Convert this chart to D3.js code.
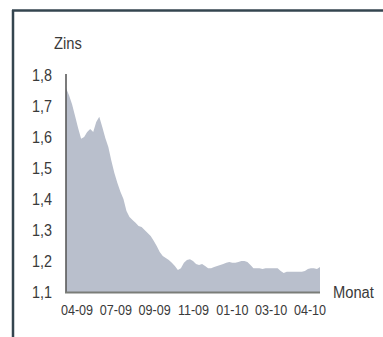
<!DOCTYPE html>
<html>
<head>
<meta charset="utf-8">
<script src="https://cdn.jsdelivr.net/npm/d3@7"></script>
<style>
  html, body { margin: 0; padding: 0; background: #fff; }
  svg { display: block; }
  text { font-family: "Liberation Sans", Arial, sans-serif; fill: #3a3a3a; }
</style>
</head>
<body>
<svg id="chart" width="383" height="337"></svg>
<script>
// Interest rate (Zins), daily-ish samples from April 2009 to April 2010
const zins = [
  1.758, 1.735, 1.706, 1.668, 1.629, 1.594, 1.600, 1.616, 1.626, 1.616,
  1.648, 1.665, 1.632, 1.597, 1.568, 1.523, 1.484, 1.452, 1.423, 1.400,
  1.361, 1.342, 1.332, 1.323, 1.313, 1.310, 1.300, 1.290, 1.281, 1.265,
  1.248, 1.229, 1.216, 1.210, 1.203, 1.194, 1.184, 1.171, 1.177, 1.194,
  1.203, 1.206, 1.200, 1.190, 1.187, 1.190, 1.184, 1.177, 1.177, 1.181,
  1.184, 1.187, 1.190, 1.194, 1.197, 1.194, 1.194, 1.197, 1.200, 1.200,
  1.197, 1.187, 1.177, 1.177, 1.177, 1.174, 1.177, 1.177, 1.177, 1.177,
  1.177, 1.168, 1.161, 1.165, 1.165, 1.165, 1.165, 1.165, 1.165, 1.168,
  1.174, 1.177, 1.177, 1.174, 1.181
];
const monthLabels = ["04-09", "07-09", "09-09", "11-09", "01-10", "03-10", "04-10"];
const yTicks = [1.1, 1.2, 1.3, 1.4, 1.5, 1.6, 1.7, 1.8];

const svg = d3.select("#chart");

const x = d3.scaleLinear().domain([0, zins.length - 1]).range([66, 320]);
const y = d3.scaleLinear().domain([1.1, 1.8]).range([292, 75]);
const xLab = d3.scalePoint().domain(monthLabels).range([77, 310]);

// Condensed text: regular face squeezed horizontally
function label(g, px, py, sx) {
  return g.append("text").attr("transform", `translate(${px},${py}) scale(${sx},1)`);
}

// Frame: top rule and left rule
svg.append("line").attr("x1", 12).attr("x2", 383).attr("y1", 10.5).attr("y2", 10.5)
  .attr("stroke", "#34454f").attr("stroke-width", 2.5);
svg.append("line").attr("x1", 13).attr("x2", 13).attr("y1", 10).attr("y2", 337)
  .attr("stroke", "#34454f").attr("stroke-width", 2.5);

// Area
const area = d3.area()
  .x((d, i) => x(i))
  .y0(y(1.1))
  .y1(d => y(d))
  .curve(d3.curveLinear);

svg.append("path").datum(zins)
  .attr("d", area)
  .attr("fill", "#b9bfcc");

// Axis lines
svg.append("line").attr("x1", 66).attr("x2", 66).attr("y1", 74).attr("y2", y(1.1) + 1)
  .attr("stroke", "#5a5a5a").attr("stroke-width", 1.6);
svg.append("line").attr("x1", 65).attr("x2", 320).attr("y1", y(1.1) + 0.5).attr("y2", y(1.1) + 0.5)
  .attr("stroke", "#7a7d78").attr("stroke-width", 2);

// Y tick labels
const gy = svg.append("g");
yTicks.forEach(v => {
  label(gy, 52, y(v), 0.9)
    .attr("dy", "0.36em")
    .attr("text-anchor", "end")
    .attr("font-size", 16)
    .text(d3.format(".1f")(v).replace(".", ","));
});

// X tick labels
const gx = svg.append("g");
monthLabels.forEach(m => {
  label(gx, xLab(m), 315, 0.9)
    .attr("text-anchor", "middle")
    .attr("font-size", 14)
    .text(m);
});

// Axis titles
label(svg, 54, 49, 0.92).attr("font-size", 16).text("Zins");
label(svg, 333, 298, 0.92).attr("font-size", 16).text("Monat");
</script>
</body>
</html>
